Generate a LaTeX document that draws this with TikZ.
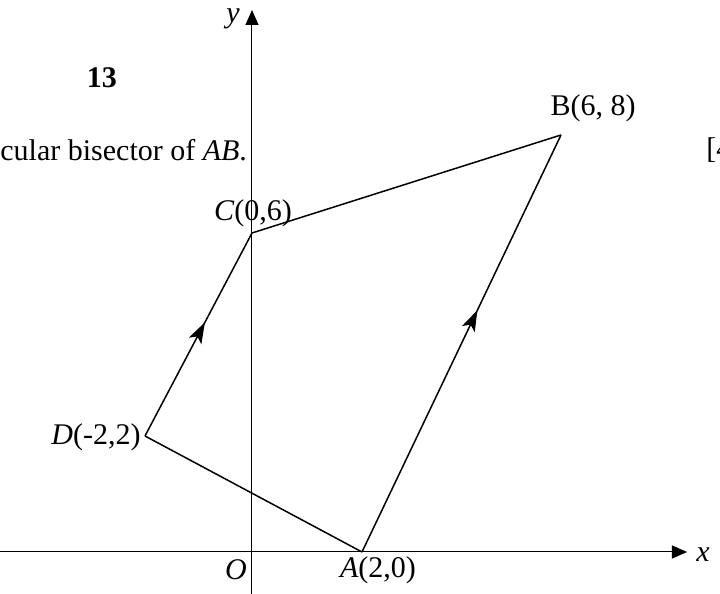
\documentclass[tikz,border=0pt]{standalone}
\usepackage{fontspec}
\setmainfont{Liberation Serif}
\usetikzlibrary{arrows.meta, decorations.markings}

\begin{document}
\begin{tikzpicture}[x=0.5pt, y=0.5pt, font=\fontsize{15}{18}\selectfont,
    axis/.style={line width=0.5pt, -{Triangle[length=7.5pt,width=6.5pt]}},
    side/.style={line width=0.75pt},
    midarrow/.style={postaction={decorate}, decoration={markings,
        mark=at position #1 with {\arrow{Stealth[length=10.5pt,width=7pt,inset=2.5pt]}}}}]
          \useasboundingbox (0,0) rectangle (720,594);

          % axes
          \coordinate (xl) at (0,42);
          \coordinate (xr) at (687,42);
          \coordinate (yb) at (252,0);
          \coordinate (yt) at (252,584);
          \draw[axis] (xl) -- (xr);
          \draw[axis] (yb) -- (yt);
          \node (xlab) at (703,39) {\textit{x}};
          \node (ylab) at (233,575) {\textit{y}};
          \node (olab) at (236,24) {\textit{O}};

          % quadrilateral
          \coordinate (A) at (362,42);
          \coordinate (B) at (561,459);
          \coordinate (C) at (252,361);
          \coordinate (D) at (145,158);

          \draw[side, midarrow=0.58] (A) -- (B);
          \draw[side] (B) -- (C);
          \draw[side, midarrow=0.56] (D) -- (C);
          \draw[side] (D) -- (A);

          \node (alab) at (378,24) {\textit{A}(2,0)};
          \node (blab) at (593,486) {B(6, 8)};
          \node (clab) at (253,381) {\textit{C}(0,6)};
          \node (dlab) at (96,157) {\textit{D}(-2,2)};

          % question text
          \node (qnum) at (102,516) {\textbf{13}};
          \node[anchor=west, inner sep=0pt] (qtext) at (0,444) {cular bisector of \textit{AB}.};
          \node[anchor=west, inner sep=0pt] (marks) at (706,444) {[4};
        \end{tikzpicture}
\end{document}
